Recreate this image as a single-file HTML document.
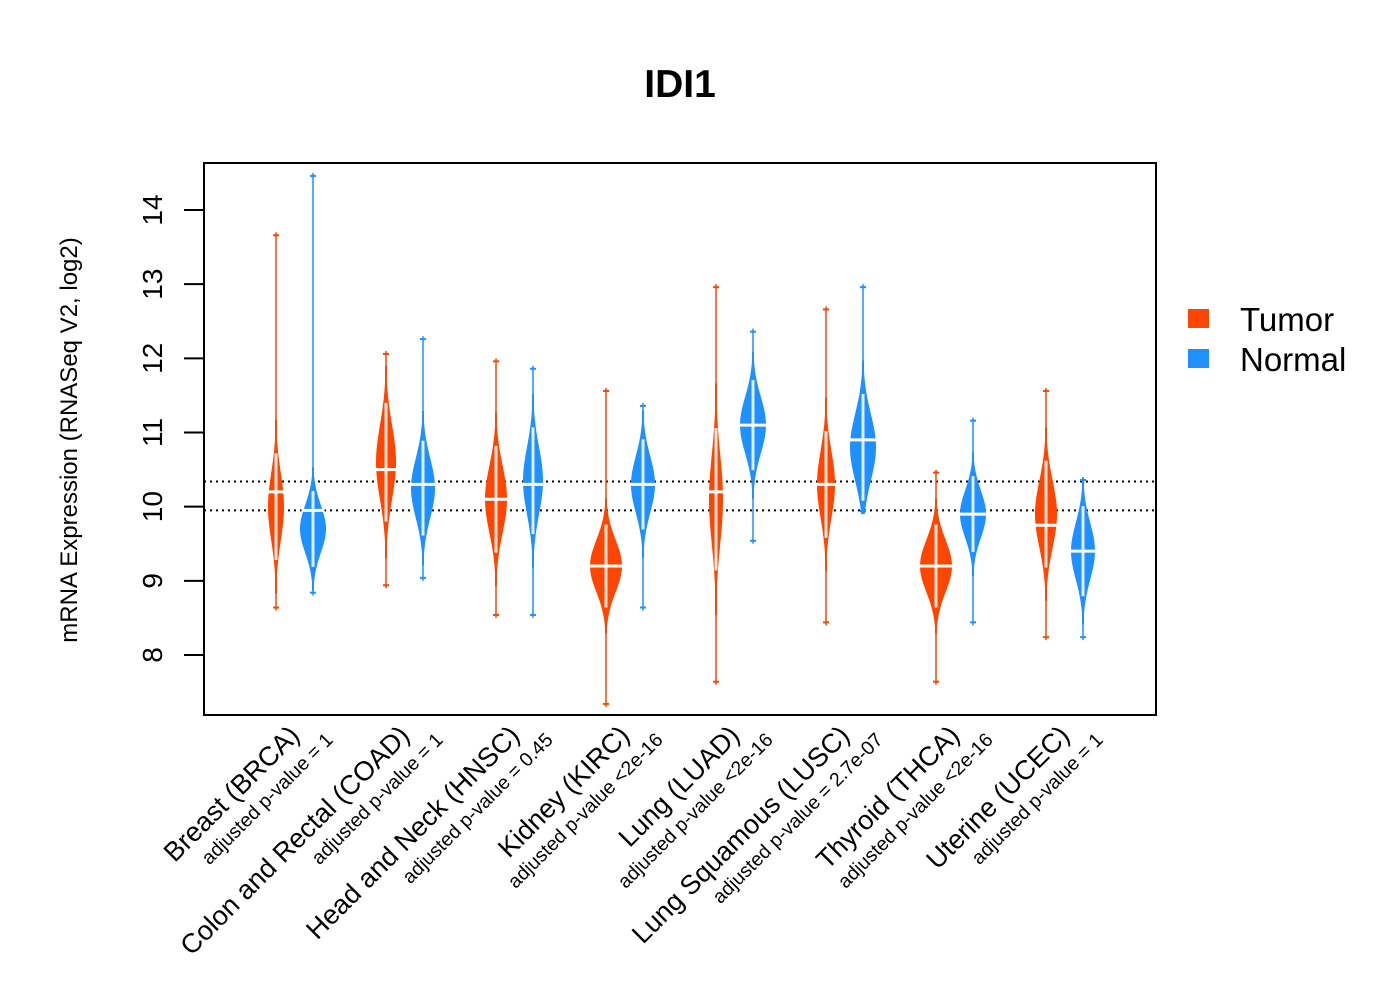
<!DOCTYPE html>
<html><head><meta charset="utf-8"><style>
html,body{margin:0;padding:0;background:#fff;}
svg{display:block;font-family:"Liberation Sans",Arial,sans-serif;}
</style></head><body>
<svg id="chart" width="1400" height="1000" viewBox="0 0 1400 1000">
<text x="680" y="97" text-anchor="middle" font-size="39" font-weight="bold">IDI1</text>
<g id="plot"></g>
</svg>
<script>
const categories=["Breast (BRCA)","Colon and Rectal (COAD)","Head and Neck (HNSC)","Kidney (KIRC)","Lung (LUAD)","Lung Squamous (LUSC)","Thyroid (THCA)","Uterine (UCEC)"];
const pvalues=["adjusted p-value = 1","adjusted p-value = 1","adjusted p-value = 0.45","adjusted p-value <2e-16","adjusted p-value <2e-16","adjusted p-value = 2.7e-07","adjusted p-value <2e-16","adjusted p-value = 1"];
// tumor bean stats
const tumorCenter=[10.0,10.6,10.1,9.2,10.1,10.3,9.2,9.9];
const tumorSd=[0.45,0.5,0.45,0.35,0.6,0.45,0.35,0.45];
const tumorWidth=[8,10,11,16,7,9,16,11];
const tumorMedian=[10.2,10.5,10.1,9.2,10.2,10.3,9.2,9.75];
const tumorMin=[8.6,8.9,8.5,7.3,7.6,8.4,7.6,8.2];
const tumorMax=[13.7,12.1,12.0,11.6,13.0,12.7,10.5,11.6];
// normal bean stats
const normalCenter=[9.7,10.25,10.35,10.3,11.1,10.8,9.9,9.4];
const normalSd=[0.32,0.4,0.45,0.38,0.38,0.45,0.32,0.38];
const normalWidth=[13,12,10,12,13,13,13,12];
const normalMedian=[9.95,10.3,10.3,10.3,11.1,10.9,9.9,9.4];
const normalMin=[8.8,9.0,8.5,8.6,9.5,9.9,8.4,8.2];
const normalMax=[14.5,12.3,11.9,11.4,12.4,13.0,11.2,10.4];
const refLines=[10.34,9.95];
const yTicks=[8,9,10,11,12,13,14];
const legendLabels=["Tumor","Normal"];
const TCOL="#FF4500",NCOL="#1E90FF";
const NS="http://www.w3.org/2000/svg";
const plot=document.getElementById('plot');
function yS(v){return 655-(v-8)*(655-210)/6;}
function xT(i){return 276+i*110;}
function xN(i){return 313+i*110;}
function mk(tag,attrs,parent){const e=document.createElementNS(NS,tag);for(const k in attrs)e.setAttribute(k,attrs[k]);(parent||plot).appendChild(e);return e;}
refLines.forEach(v=>{const l=mk('line',{x1:204,x2:1156,y1:yS(v),y2:yS(v),stroke:'#000','stroke-width':2,'stroke-dasharray':'2,4'});

});
function bean(x,c,sd,w,med,mn,mx,col,name){
  const g=mk('g',{});
  
  
  mk('line',{x1:x,x2:x,y1:yS(mn),y2:yS(mx),stroke:col,'stroke-width':1.5},g);
  let lo=Math.max(mn,c-2.6*sd),hi=Math.min(mx,c+2.6*sd);
  let L=[],R=[];
  for(let k=0;k<=60;k++){const v=lo+(hi-lo)*k/60;const hw=Math.max(1,w*Math.exp(-0.5*((v-c)/sd)**2));L.push((x-hw)+','+yS(v));R.unshift((x+hw)+','+yS(v));}
  mk('polygon',{points:L.concat(R).join(' '),fill:col},g);
  mk('rect',{x:x-1.5,y:yS(c+1.6*sd),width:3,height:yS(c-1.6*sd)-yS(c+1.6*sd),fill:'#fff',opacity:0.85},g);
  [mn,mx].forEach(v=>mk('line',{x1:x-3,x2:x+3,y1:yS(v)+(v===mn?-3:3),y2:yS(v)+(v===mn?-3:3),stroke:col,'stroke-width':2},g));
  const mw=Math.max(w*Math.exp(-0.5*((med-c)/sd)**2),6)+2;
  mk('line',{x1:x-mw,x2:x+mw,y1:yS(med),y2:yS(med),stroke:'#fff','stroke-width':3},g);
}
categories.forEach((c,i)=>{
  bean(xT(i),tumorCenter[i],tumorSd[i],tumorWidth[i],tumorMedian[i],tumorMin[i],tumorMax[i],TCOL,'tumor-bean-'+i);
  bean(xN(i),normalCenter[i],normalSd[i],normalWidth[i],normalMedian[i],normalMin[i],normalMax[i],NCOL,'normal-bean-'+i);
  const t=mk('text',{x:0,y:0,'font-size':27,'text-anchor':'end',transform:`translate(${xT(i)+25},${737}) rotate(-45)`});
  t.textContent=c;
  
  
  const p=mk('text',{x:0,y:0,'font-size':19.5,'text-anchor':'end',transform:`translate(${xT(i)+58},${741}) rotate(-45)`});
  p.textContent=pvalues[i];
  
  
});
const fr=mk('rect',{x:204,y:163,width:952,height:552,fill:'none',stroke:'#000','stroke-width':2});


yTicks.forEach(v=>{
  const l=mk('line',{x1:184,x2:204,y1:yS(v),y2:yS(v),stroke:'#000','stroke-width':2});
  
  
  const t=mk('text',{x:0,y:0,'font-size':28,'text-anchor':'middle',transform:`translate(${162},${yS(v)}) rotate(-90)`});
  t.textContent=v;
  
  
});
const yl=mk('text',{x:0,y:0,'font-size':24,'text-anchor':'middle',transform:'translate(77,440) rotate(-90)'});
yl.textContent='mRNA Expression (RNASeq V2, log2)';


[TCOL,NCOL].forEach((col,i)=>{
  const r=mk('rect',{x:1188,y:309+i*40,width:21,height:19,fill:col});
  
  
  const t=mk('text',{x:1240,y:331+i*40,'font-size':33});
  t.textContent=legendLabels[i];
  
  
});
</script>
</body></html>
